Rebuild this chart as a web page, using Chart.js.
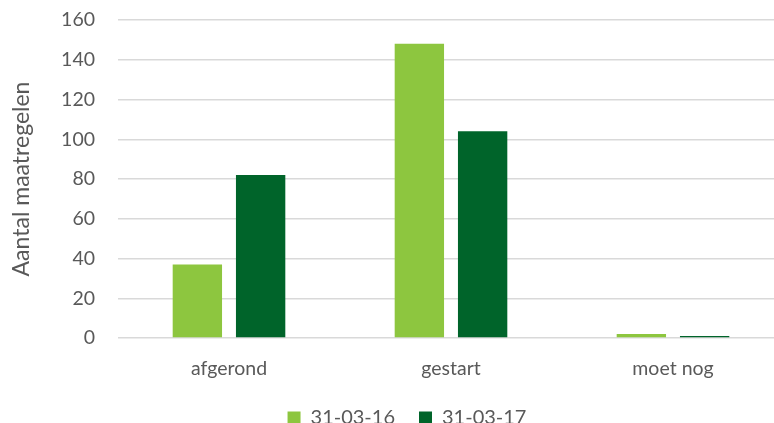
<!DOCTYPE html>
<html>
<head>
<meta charset="utf-8">
<script src="https://cdn.jsdelivr.net/npm/chart.js@4/dist/chart.umd.min.js"></script>
<style>
  html, body { margin: 0; padding: 0; background: #fff; overflow: hidden; }
  #wrap { width: 784px; height: 423px; position: relative; }
</style>
</head>
<body>
<div id="wrap"><canvas id="chart"></canvas></div>
<script>
// Data
const categories = ['afgerond', 'gestart', 'moet nog'];
const series2016 = [37, 148, 2];
const series2017 = [82, 104, 1];
const seriesLabels = ['31-03-16', '31-03-17'];
const yTicks = [0, 20, 40, 60, 80, 100, 120, 140, 160];

const lightGreen = '#8DC63F';
const darkGreen = '#00642A';
const textGray = '#595959';
const gridGray = '#D9D9D9';
const fontFamily = 'Lato, "Open Sans", sans-serif';

// the legend takes no room in the layout, it is placed by hand here
const legendPlace = {
    id: 'legendPlace',
    afterLayout(chart) {
        const l = chart.legend;
        l.left += 15;
        l.right += 15;
        l.top = 384;
        l.bottom = chart.height + 20;
    }
};

const ctx = document.getElementById('chart').getContext('2d');
new Chart(ctx, {
    type: 'bar',
    data: {
        labels: categories,
        datasets: [
            { label: seriesLabels[0], data: series2016, backgroundColor: lightGreen },
            { label: seriesLabels[1], data: series2017, backgroundColor: darkGreen }
        ]
    },
    options: {
        responsive: true,
        maintainAspectRatio: false,
        animation: false,
        categoryPercentage: 0.57,
        barPercentage: 0.78,
        layout: { padding: { top: 20, left: 0, right: 0, bottom: 0 } },
        plugins: {
            legend: {
                position: 'bottom',
                maxHeight: 1,
                labels: {
                    boxWidth: 13,
                    boxHeight: 13,
                    padding: 24,
                    color: textGray,
                    font: { family: fontFamily, size: 20 }
                }
            },
            tooltip: { enabled: false }
        },
        scales: {
            x: {
                afterFit(axis) {
                    axis.height = 84;
                },
                grid: { display: false, drawTicks: false },
                border: { display: false },
                ticks: {
                    color: textGray,
                    padding: 19,
                    font: { family: fontFamily, size: 19.5 }
                }
            },
            y: {
                min: 0,
                max: 160,
                afterBuildTicks(axis) {
                    axis.ticks = yTicks.map(v => ({ value: v }));
                },
                afterFit(axis) {
                    axis.width = 118;
                    axis.paddingTop = 0;
                    axis.paddingBottom = 0;
                },
                grid: { color: gridGray, lineWidth: 1.5, drawTicks: false },
                border: { display: false },
                ticks: {
                    color: textGray,
                    padding: 23,
                    font: { family: fontFamily, size: 19.5 }
                },
                title: {
                    display: true,
                    text: 'Aantal maatregelen',
                    color: textGray,
                    padding: { top: 8, bottom: 0 },
                    font: { family: fontFamily, size: 23 }
                }
            }
        }
    },
    plugins: [legendPlace]
});
</script>
</body>
</html>
